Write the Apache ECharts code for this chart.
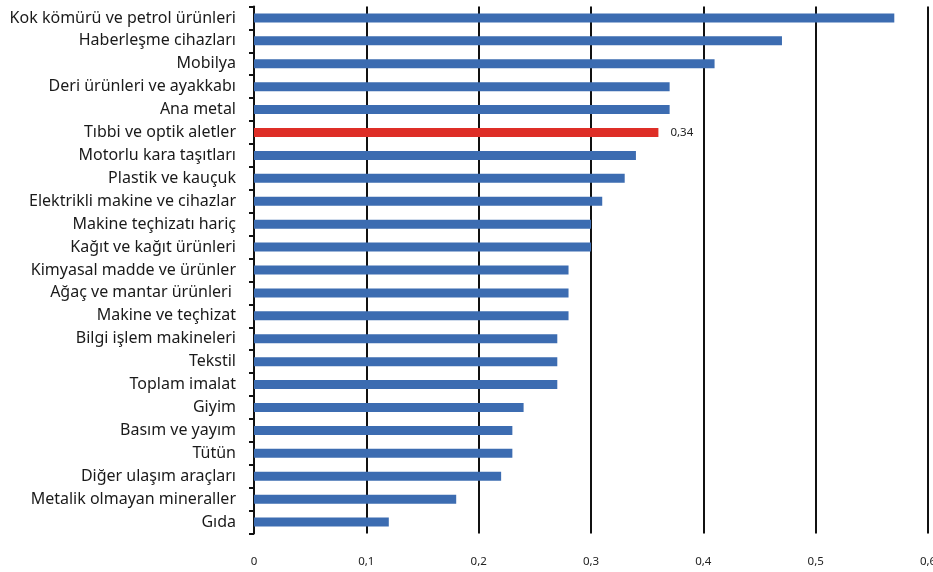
<!DOCTYPE html>
<html><head><meta charset="utf-8">
<script src="https://cdn.jsdelivr.net/npm/echarts@6/dist/echarts.min.js"></script>
<style>html,body{margin:0;padding:0;background:#fff}#c{width:933px;height:572px}</style>
</head><body><div id="c"></div>
<script>
const categories = ["Kok kömürü ve petrol ürünleri","Haberleşme cihazları","Mobilya","Deri ürünleri ve ayakkabı","Ana metal","Tıbbi ve optik aletler","Motorlu kara taşıtları","Plastik ve kauçuk","Elektrikli makine ve cihazlar","Makine teçhizatı hariç","Kağıt ve kağıt ürünleri","Kimyasal madde ve ürünler","Ağaç ve mantar ürünleri ","Makine ve teçhizat","Bilgi işlem makineleri","Tekstil","Toplam imalat","Giyim","Basım ve yayım","Tütün","Diğer ulaşım araçları","Metalik olmayan mineraller","Gıda"];
const values = [0.57,0.47,0.41,0.37,0.37,0.36,0.34,0.33,0.31,0.30,0.30,0.28,0.28,0.28,0.27,0.27,0.27,0.24,0.23,0.23,0.22,0.18,0.12];
const highlighted = ["Tıbbi ve optik aletler"];
const valueLabels = {"Tıbbi ve optik aletler":"0,34"};
const tickLabels = ["0","0,1","0,2","0,3","0,4","0,5","0,6"];

const chart = echarts.init(document.getElementById('c'));
chart.setOption({
  animation:false,
  grid:{left:254,right:5,top:6.5,bottom:38.5,outerBoundsMode:'none',containLabel:false},
  xAxis:{type:'value',min:0,max:0.6,interval:0.1,
    axisLine:{show:false},axisTick:{show:false},
    splitLine:{show:true,lineStyle:{color:'#111',width:2}},
    axisLabel:{margin:22,fontSize:11.5,color:'#222',fontFamily:'Noto Sans',
      formatter:(v)=>tickLabels[Math.round(v*10)]}},
  yAxis:{type:'category',inverse:true,data:categories,
    axisLine:{show:true,lineStyle:{color:'#111',width:2}},
    axisTick:{show:true,length:5,lineStyle:{color:'#111',width:2}},
    axisLabel:{margin:18,fontSize:16,color:'#1a1a1a',fontFamily:'Noto Sans'}},
  series:[{type:'bar',barWidth:9,
    data:values.map((v,i)=>({value:v,
      itemStyle:{color:highlighted.includes(categories[i])?'#DE2E27':'#3C6CB1'},
      label:{show:!!valueLabels[categories[i]],position:'right',distance:12,
        formatter:valueLabels[categories[i]]||'',fontSize:11.5,color:'#222',fontFamily:'Noto Sans'}}))}]
});
</script></body></html>
